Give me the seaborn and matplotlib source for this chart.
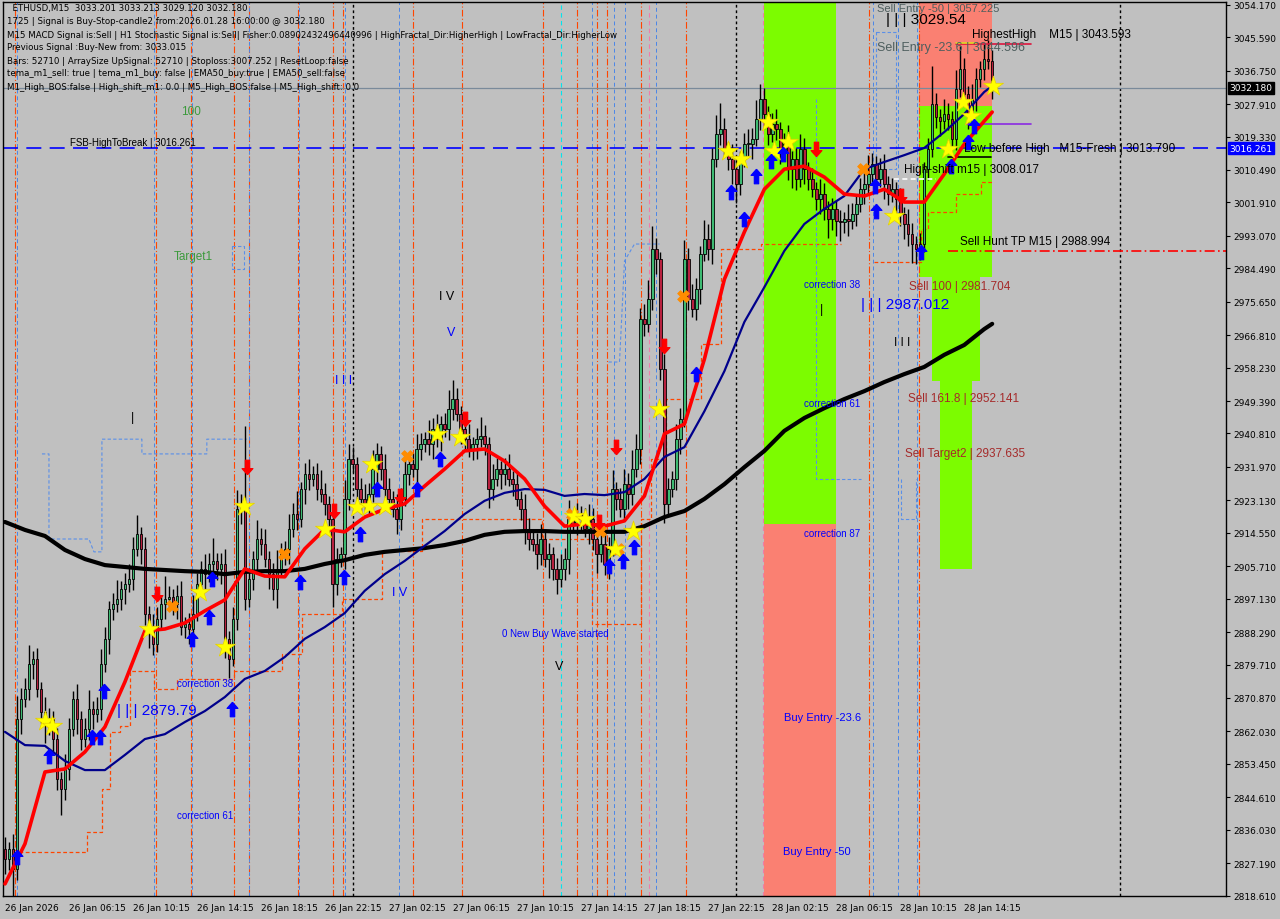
import numpy as np
import pandas as pd
import matplotlib
matplotlib.use("Agg")
import matplotlib.pyplot as plt
import seaborn as sns

# ---------------- data ----------------
closes = [
 2828.3, 2830.9, 2825.6, 2865.3, 2870.6, 2873.2, 2879.8, 2881.2, 2873.2, 2867.2, 2864.0, 2865.3, 2860.0, 2849.4, 2846.8, 2852.1,
 2862.7, 2870.6, 2865.3, 2860.0, 2862.7, 2868.0, 2866.6, 2868.0, 2879.8, 2886.5, 2894.4, 2895.7, 2897.0, 2899.7, 2901.0, 2902.3,
 2910.3, 2914.2, 2910.3, 2893.1, 2889.1, 2885.1, 2891.8, 2895.7, 2897.0, 2897.6, 2895.7, 2897.8, 2889.6, 2890.4, 2889.1, 2893.1,
 2901.0, 2905.0, 2903.6, 2906.3, 2907.1, 2905.0, 2906.3, 2886.5, 2881.2, 2891.8, 2920.8, 2920.8, 2897.0, 2902.3, 2907.6, 2912.9,
 2911.6, 2907.6, 2903.6, 2899.7, 2905.0, 2908.9, 2910.3, 2915.5, 2919.5, 2918.2, 2926.1, 2930.1, 2928.8, 2930.1, 2926.1, 2924.8,
 2922.2, 2918.2, 2901.0, 2907.6, 2908.9, 2923.5, 2934.1, 2932.7, 2926.1, 2923.5, 2922.2, 2924.8, 2931.4, 2935.4, 2931.4, 2926.1,
 2923.5, 2920.8, 2918.2, 2923.5, 2930.1, 2932.7, 2931.4, 2936.7, 2938.0, 2939.3, 2938.0, 2942.0, 2939.3, 2943.3, 2942.0, 2947.3,
 2949.9, 2946.0, 2942.0, 2939.3, 2936.7, 2938.0, 2939.3, 2940.1, 2938.0, 2926.1, 2928.8, 2931.4, 2930.1, 2931.4, 2928.8, 2927.4,
 2923.5, 2920.8, 2915.5, 2912.9, 2911.6, 2908.9, 2912.9, 2907.6, 2908.9, 2905.0, 2902.3, 2905.0, 2907.6, 2918.2, 2916.9, 2919.5,
 2918.2, 2915.5, 2918.2, 2912.9, 2908.9, 2911.6, 2906.3, 2910.3, 2926.1, 2923.5, 2920.8, 2927.4, 2924.8, 2931.4, 2936.7, 2971.1,
 2969.7, 2976.4, 2989.6, 2986.9, 2957.9, 2922.2, 2926.1, 2928.8, 2939.3, 2944.6, 2986.9, 2976.4, 2973.7, 2979.0, 2988.3, 2992.2,
 2989.6, 3013.4, 3020.0, 3021.3, 3016.0, 3013.4, 3010.7, 3006.8, 3013.4, 3017.3, 3017.3, 3018.7, 3024.0, 3029.2, 3025.3, 3020.0,
 3022.6, 3021.3, 3016.0, 3017.3, 3010.7, 3013.4, 3008.1, 3016.0, 3010.7, 3008.1, 3005.4, 3002.8, 3004.1, 3000.2, 2997.5, 3000.2,
 2997.0, 2996.7, 2997.5, 2997.0, 2998.8, 3001.5, 3005.4, 3006.8, 3009.4, 3012.1, 3008.1, 3010.7, 3006.8, 3004.1, 3005.4, 3002.8,
 2998.8, 2996.2, 2993.5, 2990.9, 2989.6, 2990.9, 3010.7, 3016.0, 3027.9, 3024.5, 3023.4, 3025.3, 3024.0, 3018.7, 3031.9, 3037.2,
 3030.6, 3025.3, 3029.2, 3034.5, 3037.2, 3039.8, 3039.3, 3032.2]
first_open = 2831.0
wick_up = [
 3, 2, 4, 6, 3, 3, 5, 2, 3, 2, 4, 3, 2, 3, 2, 4,
 3, 2, 4, 2, 3, 5, 2, 3, 4, 3, 2, 3, 5, 2, 3, 4,
 3, 5, 2, 3, 2, 4, 3, 2, 6, 3, 2, 3, 4, 2, 3, 5,
 3, 2, 4, 3, 6, 2, 3, 4, 2, 3, 5, 4, 22, 3, 2, 5,
 3, 4, 2, 3, 5, 3, 2, 4, 3, 6, 2, 3, 4, 2, 3, 5,
 3, 2, 4, 3, 2, 5, 4, 3, 2, 3, 4, 3, 5, 3, 2, 4,
 3, 2, 4, 3, 5, 2, 3, 4, 3, 2, 5, 3, 4, 2, 3, 5,
 5, 3, 2, 3, 4, 2, 3, 5, 3, 2, 4, 3, 2, 3, 4, 2,
 3, 2, 4, 3, 2, 3, 4, 2, 3, 2, 3, 4, 3, 5, 2, 3,
 2, 3, 4, 3, 2, 3, 4, 3, 5, 2, 3, 4, 3, 5, 4, 3,
 4, 5, 6, 3, 2, 4, 3, 2, 4, 3, 5, 3, 4, 3, 2, 5,
 4, 3, 5, 7, 3, 2, 4, 3, 2, 3, 4, 3, 5, 4, 3, 2,
 3, 4, 2, 3, 5, 2, 3, 4, 3, 2, 3, 2, 4, 3, 2, 3,
 2, 3, 2, 4, 3, 2, 3, 4, 5, 3, 2, 3, 4, 2, 3, 2,
 3, 2, 4, 3, 2, 3, 2, 3, 10, 3, 2, 4, 3, 2, 5, 6,
 3, 2, 4, 3, 2, 4, 5, 3]
wick_dn = [
 4, 3, 7, 3, 4, 2, 3, 4, 2, 3, 5, 3, 4, 3, 7, 3,
 3, 2, 4, 3, 2, 3, 4, 2, 3, 2, 4, 3, 2, 3, 4, 2,
 3, 2, 4, 3, 5, 3, 2, 3, 4, 2, 3, 4, 2, 3, 4, 3,
 2, 3, 4, 2, 3, 3, 4, 5, 5, 2, 3, 4, 3, 2, 3, 4,
 3, 2, 4, 3, 5, 2, 3, 4, 2, 3, 2, 4, 3, 2, 3, 2,
 3, 4, 6, 3, 2, 4, 3, 2, 3, 4, 2, 3, 2, 4, 3, 2,
 3, 2, 4, 3, 2, 3, 2, 4, 3, 2, 3, 4, 2, 3, 2, 3,
 3, 2, 4, 3, 2, 3, 4, 2, 3, 5, 3, 2, 4, 3, 2, 3,
 2, 3, 4, 3, 2, 4, 3, 2, 5, 3, 4, 2, 3, 4, 2, 3,
 3, 2, 4, 3, 5, 2, 3, 4, 2, 3, 2, 3, 4, 3, 2, 4,
 3, 2, 3, 4, 3, 5, 3, 2, 3, 4, 2, 3, 2, 3, 4, 2,
 3, 4, 2, 3, 2, 3, 4, 5, 3, 2, 3, 4, 2, 3, 4, 3,
 2, 3, 4, 2, 3, 5, 3, 2, 4, 3, 2, 3, 4, 3, 5, 3,
 4, 5, 3, 4, 2, 3, 2, 4, 3, 2, 3, 2, 4, 3, 2, 4,
 3, 4, 3, 5, 4, 3, 2, 3, 2, 3, 4, 2, 3, 2, 3, 2,
 3, 4, 2, 3, 2, 3, 2, 3]

# moving-average lines sampled every 5 bars (+ last bar)
ma_idx = list(range(0, 250, 5)) + [247]
red_ma = [2821.7, 2832.3, 2851.3, 2852.1, 2856.6, 2863.2, 2875.1, 2888.6, 2889.1, 2890.7,
          2893.9, 2896.8, 2905.0, 2903.1, 2902.9, 2910.3, 2915.5, 2914.8, 2918.7, 2920.8,
          2922.2, 2926.9, 2931.4, 2936.2, 2936.7, 2933.5, 2928.8, 2921.6, 2916.3, 2916.9,
          2916.3, 2917.7, 2924.3, 2940.7, 2943.3, 2960.5, 2981.6, 2994.1, 3005.4, 3010.7,
          3011.5, 3008.6, 3004.1, 3003.6, 3005.4, 3002.0, 3002.0, 3009.4, 3017.3, 3023.4, 3025.8]
navy_ma = [2861.9, 2858.4, 2858.2, 2854.2, 2851.8, 2851.8, 2855.8, 2860.0, 2861.3, 2864.5,
           2867.4, 2871.1, 2875.9, 2878.0, 2881.7, 2886.5, 2889.6, 2893.3, 2899.2, 2903.6,
           2907.1, 2911.1, 2915.0, 2919.5, 2923.0, 2925.1, 2926.1, 2925.9, 2924.3, 2924.8,
           2924.5, 2925.3, 2928.8, 2934.6, 2937.2, 2946.7, 2957.3, 2970.3, 2979.5, 2989.1,
           2996.2, 3000.2, 3003.6, 3010.7, 3012.6, 3014.4, 3016.3, 3020.5, 3025.3, 3031.1, 3032.7]
black_ma = [2917.4, 2915.3, 2913.7, 2910.0, 2907.6, 2906.0, 2905.5, 2905.0, 2904.7, 2904.4,
            2904.2, 2903.6, 2904.2, 2904.4, 2904.4, 2905.0, 2906.3, 2907.3, 2908.7, 2909.5,
            2910.0, 2910.5, 2911.3, 2912.4, 2914.0, 2914.8, 2915.0, 2915.0, 2914.8, 2914.8,
            2914.8, 2914.8, 2916.3, 2918.7, 2920.3, 2923.5, 2927.4, 2931.9, 2936.2, 2941.5,
            2944.9, 2947.5, 2949.9, 2952.0, 2954.4, 2956.5, 2958.4, 2961.6, 2964.2, 2968.4, 2969.8]

# trailing step lines (orange)
step1_idx = [3.5, 20.5, 24.25, 26.25, 28.75, 31.25, 37.25, 43, 57.25, 69.25, 74.25, 84.25, 94.25,
             104.25, 134.25, 146.75, 159.25, 161.75, 165.5, 174.25, 179.25, 189.25, 209.25]
step1_val = [2830.1, 2835.4, 2846.8, 2861.9, 2863.5, 2878.0, 2873.2, 2875.9, 2878.0, 2882.5, 2893.1,
             2897.0, 2909.7, 2918.2, 2912.9, 2890.4, 2918.2, 2934.1, 2949.9, 2964.5, 2989.6, 2990.9, 2990.9]
step2_idx = [217.5, 223, 229.25, 231, 238, 244.25, 247]
step2_val = [2986.1, 2986.1, 2994.9, 2999.4, 3004.1, 3007.3, 3007.3]

# blue dashed fractal paths
blue1_idx = [9.25, 11, 11, 21, 22.25, 24.25, 24.25, 34.25, 34.25, 50.5, 50.5, 60.5]
blue1_val = [2935.4, 2935.4, 2912.9, 2912.9, 2909.5, 2909.5, 2939.3, 2939.3, 2935.4, 2935.4, 2939.3, 2939.3]
blue2_idx = [151, 153.75, 155, 157.5, 163.75]
blue2_val = [2959.7, 2959.7, 2986.4, 2990.9, 2990.9]
blue3_idx = [203, 203, 214.25]
blue3_val = [3029.2, 2928.8, 2928.8]
blue4_idx = [224.25, 224.25, 228, 228]
blue4_val = [2928.8, 2918.2, 2918.2, 2928.8]
blue5_idx = [218, 223, 223, 218, 218]
blue5_val = [3046.9, 3046.9, 3010.7, 3010.7, 3046.9]
blue6_idx = [56.75, 59.75, 59.75, 56.75, 56.75]
blue6_val = [2990.3, 2990.3, 2984.2, 2984.2, 2990.3]

# signal markers (bar index, price)
star_idx = [10, 11.75, 36, 48.75, 55, 59.75, 80, 88, 91, 91.75, 95, 108, 113.75, 142.25, 145, 152.5,
            157.25, 163.75, 181, 184.25, 191, 192.5, 196, 222.5, 236, 239.75, 241.75, 247.25]
star_val = [2864.8, 2863.4, 2889.1, 2898.9, 2884.3, 2921.6, 2915.5, 2921.4, 2921.6, 2932.7, 2921.6,
            2940.7, 2939.9, 2919.0, 2918.2, 2910.3, 2915.0, 2947.3, 3015.5, 3013.4, 3023.2, 3015.5,
            3017.9, 2998.3, 3016.0, 3028.4, 3024.7, 3032.7]
up_idx = [3, 11, 21.75, 23.75, 24.75, 46.75, 51, 51.75, 56.75, 73.75, 84.75, 88.75, 93, 103, 108.75,
          151, 154.75, 157.5, 173, 181.75, 185, 188, 191.75, 194.75, 217.75, 218, 229.25, 236.75, 241, 242.5]
up_val = [2828.8, 2855.5, 2860.5, 2860.5, 2872.7, 2886.5, 2892.3, 2902.3, 2868.0, 2901.5, 2902.9,
          2914.2, 2926.1, 2926.1, 2934.1, 2905.8, 2907.1, 2910.8, 2956.5, 3004.6, 2997.5, 3008.9,
          3012.8, 3014.7, 3006.2, 2999.6, 2988.8, 3011.5, 3017.9, 3022.1]
dn_idx = [38, 60.5, 82.25, 98.75, 115, 148.5, 153, 165, 203, 224.25]
dn_val = [2898.4, 2931.9, 2920.3, 2924.3, 2944.6, 2917.4, 2937.2, 2963.9, 3016.0, 3003.6]
x_idx = [41.75, 69.75, 100.5, 141.75, 148.75, 153.5, 169.75, 214.75]
x_val = [2895.2, 2908.9, 2934.8, 2919.5, 2915.0, 2910.3, 2977.1, 3010.7]

# vertical event lines (bar index)
vl_black = [87, 183, 279]
vl_orange = [2.5, 37.75, 46.5, 57.25, 61, 73.25, 82, 84.5, 102, 114.25, 134.5, 143, 148, 150.5,
             159.25, 170.5, 216.25, 228.75]
vl_blue = [3, 37.25, 46.75, 61, 73.5, 85, 98.5, 146.75, 152.25, 155.25, 163, 217.25, 223.5, 228.25]
vl_cyan = [139]
vl_pink = [161.25, 189.75]

price_ticks = [3054.170, 3045.590, 3036.750, 3027.910, 3019.330, 3010.490, 3001.910, 2993.070,
               2984.490, 2975.650, 2966.810, 2958.230, 2949.390, 2940.810, 2931.970, 2923.130,
               2914.550, 2905.710, 2897.130, 2888.290, 2879.710, 2870.870, 2862.030, 2853.450,
               2844.610, 2836.030, 2827.190, 2818.610]
time_tick_idx = list(range(0, 241, 16))
time_tick_lbl = ["26 Jan 2026", "26 Jan 06:15", "26 Jan 10:15", "26 Jan 14:15", "26 Jan 18:15",
                 "26 Jan 22:15", "27 Jan 02:15", "27 Jan 06:15", "27 Jan 10:15", "27 Jan 14:15",
                 "27 Jan 18:15", "27 Jan 22:15", "28 Jan 02:15", "28 Jan 06:15", "28 Jan 10:15",
                 "28 Jan 14:15"]

info_lines = [
    "  ETHUSD,M15  3033.201 3033.213 3029.120 3032.180",
    "1725 | Signal is Buy-Stop-candle2 from:2026.01.28 16:00:00 @ 3032.180",
    "M15 MACD Signal is:Sell | H1 Stochastic Signal is:Sell| Fisher:0.08902432496440996 | HighFractal_Dir:HigherHigh | LowFractal_Dir:HigherLow",
    "Previous Signal :Buy-New from: 3033.015",
    "Bars: 52710 | ArraySize UpSignal: 52710 | Stoploss:3007.252 | ResetLoop:false",
    "tema_m1_sell: true | tema_m1_buy: false | EMA50_buy:true | EMA50_sell:false",
    "M1_High_BOS:false | High_shift_m1: 0.0 | M5_High_BOS:false | M5_High_shift: 0.0",
]

# ---------------- figure ----------------
sns.set_theme(style="white")
plt.rcParams["font.family"] = ["DejaVu Sans"]
BG = "#C0C0C0"
fig = plt.figure(figsize=(12.8, 9.2), dpi=100, facecolor=BG)
ax = fig.add_axes([3 / 1280, 23 / 920, 1223 / 1280, 894 / 920])
ax.set_facecolor(BG)
YMIN, YMAX = 2818.5, 3054.9
ax.set_xlim(-0.5, 305.5)
ax.set_ylim(YMIN, YMAX)

def zone(x0, x1, y0, y1, c):
    ax.fill_between([x0, x1], [y0, y0], [y1, y1], color=c, lw=0, zorder=0.5)

LIME, SALMON = "#7CFC00", "#FA8072"
zone(190, 208, 2916.9, YMAX, LIME)
zone(190, 208, YMIN, 2916.9, SALMON)
zone(228.75, 247, 3027.4, YMAX, SALMON)
zone(228.75, 247, 2982.2, 3027.4, LIME)
zone(232, 244, 2954.7, 2982.2, LIME)
zone(234, 242, 2905.0, 2954.7, LIME)

# vertical lines
for v in vl_orange:
    ax.axvline(v, color="#FF4500", lw=0.8, ls=(0, (6, 2, 1, 2)), zorder=1)
for v in vl_blue:
    ax.axvline(v, color="#4A86E8", lw=0.7, ls=(0, (4, 3)), zorder=1)
for v in vl_cyan:
    ax.axvline(v, color="#00E5EE", lw=0.8, ls=(0, (4, 3)), zorder=1)
for v in vl_pink:
    ax.axvline(v, color="#F07CA8", lw=0.8, ls=(0, (4, 3)), zorder=1)
for v in vl_black:
    ax.axvline(v, color="black", lw=1.0, ls=(0, (2, 2)), zorder=1)

# step lines
ax.plot(step1_idx, step1_val, drawstyle="steps-post", color="#FF4500", lw=0.9, ls=(0, (3, 2)), zorder=1.2)
ax.plot(step2_idx, step2_val, drawstyle="steps-post", color="#FF4500", lw=0.9, ls=(0, (3, 2)), zorder=1.2)
for bi, bv in [(blue1_idx, blue1_val), (blue2_idx, blue2_val), (blue3_idx, blue3_val),
               (blue4_idx, blue4_val), (blue5_idx, blue5_val), (blue6_idx, blue6_val)]:
    ax.plot(bi, bv, color="#5A8FE8", lw=0.8, ls=(0, (3, 2)), zorder=1.2)

# horizontal levels
ax.axhline(3032.180, color="#7A8A9A", lw=0.9, zorder=1.1)
ax.axhline(3016.261, color="#0000FF", lw=1.2, ls=(0, (9, 5)), zorder=1.3)
ax.plot([236, 305.5], [2988.994] * 2, color="#FF0000", lw=1.2, ls=(0, (6, 2, 1, 2)), zorder=1.3)
ax.plot([238, 256.75], [3043.8] * 2, color="#DC143C", lw=1.2, zorder=3)
ax.plot([238, 243], [3044.0] * 2, color="#DDDD22", lw=1.2, zorder=3.1)
ax.plot([240.5, 256.75], [3022.6] * 2, color="#8A2BE2", lw=1.2, zorder=3)
ax.plot([236, 246.75], [3013.9] * 2, color="black", lw=1.2, zorder=3)
ax.plot([222.5, 233], [3008.1] * 2, color="white", lw=1.2, ls=(0, (3, 2)), zorder=3)

# candles
opens = [first_open] + closes[:-1]
df = pd.DataFrame({"i": np.arange(len(closes)), "open": opens, "close": closes})
df["high"] = df[["open", "close"]].max(axis=1) + np.array(wick_up)
df["low"] = df[["open", "close"]].min(axis=1) - np.array(wick_dn)
df["bull"] = df["close"] >= df["open"]
ax.vlines(df["i"], df["low"], df["high"], color="black", lw=1.0, zorder=2)
body_lo = df[["open", "close"]].min(axis=1)
body_h = (df["close"] - df["open"]).abs().clip(lower=0.3)
ax.bar(df["i"], body_h, bottom=body_lo, width=0.62,
       color=np.where(df["bull"], "#3DBA72", "#B8213F"), edgecolor="black", linewidth=0.6, zorder=2.2)

# moving averages
sns.lineplot(x=ma_idx, y=black_ma, ax=ax, color="black", lw=3.0, sort=False, estimator=None, zorder=3)
sns.lineplot(x=ma_idx, y=navy_ma, ax=ax, color="#00008B", lw=1.6, sort=False, estimator=None, zorder=3.2)
sns.lineplot(x=ma_idx, y=red_ma, ax=ax, color="#FF0000", lw=2.6, sort=False, estimator=None, zorder=3.4)

# markers
up_arrow = [(0, 1), (-0.75, 0.15), (-0.3, 0.15), (-0.3, -1), (0.3, -1), (0.3, 0.15), (0.75, 0.15), (0, 1)]
dn_arrow = [(x, -y) for x, y in up_arrow]
sns.scatterplot(x=x_idx, y=x_val, ax=ax, marker="X", s=70, color="#FF8C00", edgecolor="#FF8C00", zorder=4)
sns.scatterplot(x=star_idx, y=star_val, ax=ax, marker="*", s=230, color="#FFFF00", edgecolor="#E6D000",
                linewidth=0.5, zorder=4.2)
sns.scatterplot(x=up_idx, y=up_val, ax=ax, marker=up_arrow, s=110, color="#0000FF", edgecolor="#0000FF", zorder=4.4)
sns.scatterplot(x=dn_idx, y=dn_val, ax=ax, marker=dn_arrow, s=110, color="#FF0000", edgecolor="#FF0000", zorder=4.4)

# annotations
A = ["Liberation Sans", "DejaVu Sans"]
def t(x, y, s, c, fs, va="center", **kw):
    ax.text(x, y, s, color=c, fontsize=fs, family=A, va=va, ha="left", zorder=6, **kw)

BLUE, BROWN, GREEN, GRAY = "#0000FF", "#A52A2A", "#3C9A3C", "#4E5E5E"
t(16.25, 3018.0, "FSB-HighToBreak | 3016.261", "black", 7)
t(44.0, 3026.1, "100", GREEN, 8.5)
t(42.25, 2987.7, "Target1", GREEN, 8.5)
t(43.0, 2874.8, "correction 38", BLUE, 7)
t(43.0, 2839.9, "correction 61", BLUE, 7)
t(28.0, 2867.7, "| | | 2879.79", BLUE, 11)
t(82.5, 2954.9, "I I I", BLUE, 9)
t(108.5, 2977.1, "I V", "black", 9)
t(110.5, 2967.6, "V", BLUE, 9)
t(96.75, 2898.9, "I V", BLUE, 9)
t(137.5, 2879.3, "V", "black", 9)
t(31.5, 2945.2, "|", "black", 9)
t(204.0, 2973.7, "|", "black", 9)
t(124.25, 2888.0, "0 New Buy Wave started", BLUE, 7)
t(200.0, 2980.3, "correction 38", BLUE, 7)
t(200.0, 2948.9, "correction 61", BLUE, 7)
t(200.0, 2914.5, "correction 87", BLUE, 7)
t(195.0, 2865.8, "Buy Entry -23.6", BLUE, 8)
t(194.75, 2830.4, "Buy Entry -50", BLUE, 8)
t(214.25, 2975.0, "| | | 2987.012", BLUE, 11)
t(218.25, 3054.75, "Sell Entry -50 | 3057.225", GRAY, 8, va="top")
t(220.5, 3050.5, "| | | 3029.54", "black", 11)
t(218.25, 3043.1, "Sell Entry -23.6 | 3044.596", GRAY, 9)
t(242.0, 3046.4, "HighestHigh    M15 | 3043.593", "black", 8.5)
t(240.0, 3016.4, "Low before High   M15-Fresh | 3013.790", "black", 8.5)
t(225.0, 3010.7, "High-shift m15 | 3008.017", "black", 8.5)
t(239.0, 2991.7, "Sell Hunt TP M15 | 2988.994", "black", 8.5)
t(226.25, 2979.8, "Sell 100 | 2981.704", BROWN, 8.5)
t(226.0, 2950.2, "Sell 161.8 | 2952.141", BROWN, 8.5)
t(225.25, 2935.6, "Sell Target2 | 2937.635", BROWN, 8.5)
t(222.5, 2965.0, "I I I", "black", 8.5)

# info block (top left)
for k, line in enumerate(info_lines):
    fig.text(7 / 1280, 1 - (9 + 13 * k) / 920, line, fontsize=6.2, color="black", va="center", ha="left",
             family=["DejaVu Sans"])

# axes / ticks
ax.yaxis.tick_right()
ax.set_yticks(price_ticks)
ax.set_yticklabels([f"{v:.3f}" for v in price_ticks])
ax.set_xticks(time_tick_idx)
ax.set_xticklabels(time_tick_lbl, ha="left")
ax.tick_params(axis="both", direction="out", length=3, width=0.8, labelsize=6.5, colors="black", pad=2)
for sp in ax.spines.values():
    sp.set_color("black")
    sp.set_linewidth(1.0)
ax.grid(False)
ax.set_xlabel("")
ax.set_ylabel("")

# price labels on right scale
ax.text(1.003, 3032.180, "3032.180", transform=ax.get_yaxis_transform(), color="white", fontsize=6.5,
        va="center", ha="left", bbox=dict(boxstyle="square,pad=0.2", fc="black", ec="black"), zorder=7)
ax.text(1.003, 3016.261, "3016.261", transform=ax.get_yaxis_transform(), color="white", fontsize=6.5,
        va="center", ha="left", bbox=dict(boxstyle="square,pad=0.2", fc="#0000FF", ec="#0000FF"), zorder=7)

fig.savefig("out.png", dpi=100, facecolor=BG)
